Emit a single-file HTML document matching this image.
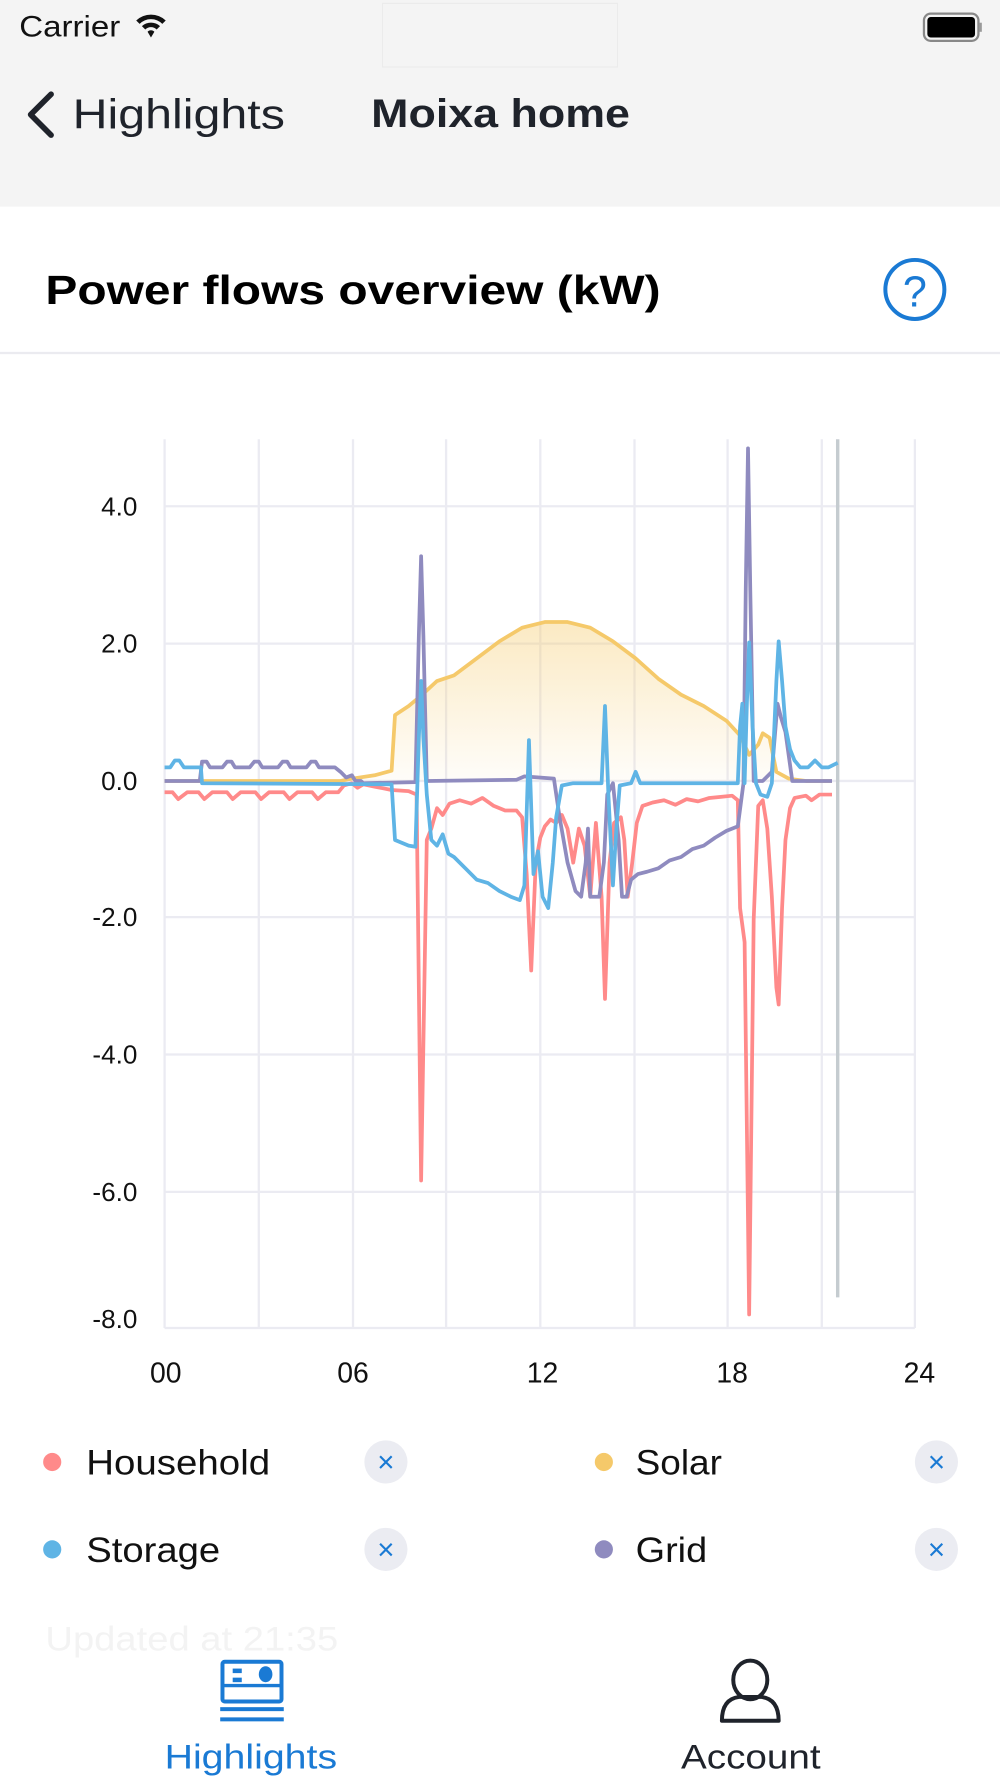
<!DOCTYPE html>
<html><head><meta charset="utf-8"><style>
html,body{margin:0;padding:0;background:#fff;width:1000px;height:1778px;overflow:hidden}
svg{display:block}
text{font-family:"Liberation Sans",Arial,sans-serif}
</style></head><body>
<svg width="1000" height="1778" viewBox="0 0 881 1566.4" xmlns="http://www.w3.org/2000/svg">
<defs>
<linearGradient id="sg" gradientUnits="userSpaceOnUse" x1="0" y1="548" x2="0" y2="688">
<stop offset="0" stop-color="#f5cc70" stop-opacity="0.42"/>
<stop offset="1" stop-color="#f5cc70" stop-opacity="0.04"/>
</linearGradient>
</defs>
<rect x="0" y="0" width="881" height="182" fill="#f4f4f4"/>
<rect x="337" y="3" width="207" height="56" fill="none" stroke="#ebebeb" stroke-width="1"/>
<text x="17" y="32" font-size="26" fill="#111" textLength="89" lengthAdjust="spacingAndGlyphs">Carrier</text>
<g transform="translate(133,24)" fill="#111">
<path d="M-13,-6 A19,19 0 0 1 13,-6 L10,-3 A14,14 0 0 0 -10,-3 Z"/>
<path d="M-8,-1 A12,12 0 0 1 8,-1 L5,2 A7,7 0 0 0 -5,2 Z"/>
<path d="M-3,4 L0,9 L3,4 A4,4 0 0 0 -3,4 Z"/>
</g>
<rect x="814" y="12" width="48" height="24" rx="6" fill="none" stroke="#888" stroke-width="2"/>
<rect x="817" y="15" width="42" height="18" rx="3" fill="#000"/>
<rect x="863" y="20" width="2" height="8" fill="#999"/>
<path d="M45,83 L27,101 L45,119" fill="none" stroke="#1f232b" stroke-width="5" stroke-linecap="round" stroke-linejoin="round"/>
<text x="64" y="113" font-size="37" fill="#1f232b" textLength="187" lengthAdjust="spacingAndGlyphs">Highlights</text>
<text x="327" y="112" font-size="35" font-weight="bold" fill="#1f232b" textLength="228" lengthAdjust="spacingAndGlyphs">Moixa home</text>
<text x="40" y="268" font-size="36" font-weight="bold" fill="#000" textLength="542" lengthAdjust="spacingAndGlyphs">Power flows overview (kW)</text>
<circle cx="806" cy="255" r="26" fill="none" stroke="#1a7ad4" stroke-width="3.5"/>
<text x="806" y="270" font-size="38" fill="#1a7ad4" text-anchor="middle">?</text>
<rect x="0" y="310" width="881" height="2" fill="#ebebf0"/>
<g stroke="#ebebf2" stroke-width="2">
<line x1="145" y1="387" x2="145" y2="1170"/><line x1="228" y1="387" x2="228" y2="1170"/>
<line x1="311" y1="387" x2="311" y2="1170"/><line x1="393" y1="387" x2="393" y2="1170"/>
<line x1="476" y1="387" x2="476" y2="1170"/><line x1="559" y1="387" x2="559" y2="1170"/>
<line x1="641" y1="387" x2="641" y2="1170"/><line x1="724" y1="387" x2="724" y2="1170"/>
<line x1="806" y1="387" x2="806" y2="1170"/>
<line x1="145" y1="446" x2="806" y2="446"/><line x1="145" y1="567" x2="806" y2="567"/>
<line x1="145" y1="688" x2="806" y2="688"/><line x1="145" y1="808" x2="806" y2="808"/>
<line x1="145" y1="929" x2="806" y2="929"/><line x1="145" y1="1050" x2="806" y2="1050"/>
<line x1="145" y1="1170" x2="806" y2="1170"/>
</g>
<g font-size="23" fill="#111" text-anchor="end">
<text x="121" y="454">4.0</text><text x="121" y="575">2.0</text><text x="121" y="696">0.0</text>
<text x="121" y="816">-2.0</text><text x="121" y="937">-4.0</text><text x="121" y="1058">-6.0</text><text x="121" y="1170">-8.0</text>
</g>
<g font-size="25" fill="#111" text-anchor="middle">
<text x="146" y="1218">00</text><text x="311" y="1218">06</text><text x="478" y="1218">12</text><text x="645" y="1218">18</text><text x="810" y="1218">24</text>
</g>
<line x1="738" y1="387" x2="738" y2="1143" stroke="#c5ccd0" stroke-width="3"/>
<path d="M145,688 L300,688 L310,686 L330,683 L345,679 L348,630 L360,622 L372,612 L385,600 L400,595 L420,580 L440,565 L460,553 L480,548 L500,548 L520,553 L540,565 L560,580 L580,598 L600,612 L620,622 L640,635 L652,648 L660,665 L668,656 L672,646 L678,650 L684,680 L695,686 L710,688 L733,688 Z" fill="url(#sg)"/>
<g fill="none" stroke-width="3.3" stroke-linejoin="round">
<polyline stroke="#f5c96a" points="145,688 300,688 310,686 330,683 345,679 348,630 360,622 372,612 385,600 400,595 420,580 440,565 460,553 480,548 500,548 520,553 540,565 560,580 580,598 600,612 620,622 640,635 652,648 660,665 668,656 672,646 678,650 684,680 695,686 710,688 733,688"/>
<polyline stroke="#ff8a8a" points="145,698 152,698 157,704 165,698 175,698 180,704 187,698 200,698 205,704 212,698 225,698 230,704 237,698 250,698 255,704 262,698 275,698 280,704 287,698 298,698 303,692 310,690 315,694 320,691 330,693 345,696 360,697 367,700 371,1040 376,740 380,730 385,712 390,718 396,708 405,705 415,708 425,703 435,710 445,714 455,714 460,720 464,770 468,855 472,760 476,738 480,728 485,722 490,725 495,718 500,730 505,760 510,730 515,745 520,790 525,725 530,790 533,880 537,760 541,725 547,720 550,740 553,790 557,760 561,725 566,710 575,707 585,705 595,709 605,704 615,706 625,703 635,702 645,701 650,705 652,800 656,830 660,1158 664,810 668,710 672,705 676,730 680,790 684,870 686,885 689,800 692,740 696,712 700,703 710,701 715,705 722,700 733,700"/>
<polyline stroke="#8f8bbf" points="145,688 176,688 178,671 182,671 185,676 196,676 200,671 204,671 207,676 220,676 224,671 228,671 231,676 245,676 249,671 253,671 256,676 270,676 274,671 278,671 281,676 295,676 300,680 305,685 310,683 313,688 318,688 320,690 366,689 369,560 371,490 373,560 376,688 455,687 462,684 488,686 493,720 500,760 507,785 512,790 516,760 518,730 520,790 528,790 532,760 535,700 540,690 545,740 548,790 552,790 556,775 562,770 570,768 580,765 590,758 600,755 610,748 620,745 630,738 640,732 650,728 655,690 657,520 659,395 661,520 664,688 672,688 680,680 685,620 688,632 692,645 698,688 733,688"/>
<polyline stroke="#5fb4e5" points="145,676 150,676 154,670 158,670 162,676 177,676 178,690 345,691 348,740 360,745 366,746 369,650 371,600 373,650 376,700 380,740 385,745 390,735 395,752 400,755 410,765 420,775 430,778 440,785 450,790 458,793 462,780 466,652 470,770 474,750 478,790 483,800 487,760 490,720 495,692 505,690 530,690 533,622 536,700 540,780 543,730 546,692 556,690 560,680 564,690 570,690 640,690 650,690 652,640 654,620 656,690 658,620 660,566 663,640 666,690 670,700 676,702 680,690 684,600 686,565 689,600 692,640 696,660 700,670 705,676 712,676 718,670 724,676 730,676 738,672"/>
</g>
<circle cx="46" cy="1288" r="8" fill="#ff8a8a"/>
<text x="76" y="1299" font-size="31" fill="#111" textLength="162" lengthAdjust="spacingAndGlyphs">Household</text>
<circle cx="340" cy="1288" r="19" fill="#ebecf2"/>
<text x="340" y="1297" font-size="26" fill="#1a7ad4" text-anchor="middle">×</text>
<circle cx="532" cy="1288" r="8" fill="#f5c96a"/>
<text x="560" y="1299" font-size="31" fill="#111" textLength="76" lengthAdjust="spacingAndGlyphs">Solar</text>
<circle cx="825" cy="1288" r="19" fill="#ebecf2"/>
<text x="825" y="1297" font-size="26" fill="#1a7ad4" text-anchor="middle">×</text>
<circle cx="46" cy="1365" r="8" fill="#5fb4e5"/>
<text x="76" y="1376" font-size="31" fill="#111" textLength="118" lengthAdjust="spacingAndGlyphs">Storage</text>
<circle cx="340" cy="1365" r="19" fill="#ebecf2"/>
<text x="340" y="1374" font-size="26" fill="#1a7ad4" text-anchor="middle">×</text>
<circle cx="532" cy="1365" r="8" fill="#8f8bbf"/>
<text x="560" y="1376" font-size="31" fill="#111" textLength="63" lengthAdjust="spacingAndGlyphs">Grid</text>
<circle cx="825" cy="1365" r="19" fill="#ebecf2"/>
<text x="825" y="1374" font-size="26" fill="#1a7ad4" text-anchor="middle">×</text>
<text x="40" y="1454" font-size="30" fill="#f3f3f3" textLength="258" lengthAdjust="spacingAndGlyphs">Updated at 21:35</text>
<rect x="196" y="1464" width="52" height="35" fill="none" stroke="#1a7ad4" stroke-width="3.5" rx="2"/>
<line x1="196" y1="1485" x2="248" y2="1485" stroke="#1a7ad4" stroke-width="3"/>
<rect x="205" y="1470" width="8" height="4" fill="#1a7ad4"/>
<rect x="205" y="1478" width="8" height="4" fill="#1a7ad4"/>
<ellipse cx="234" cy="1475" rx="6" ry="7" fill="#1a7ad4"/>
<rect x="194" y="1504" width="56" height="3.5" fill="#1a7ad4"/>
<rect x="194" y="1513" width="56" height="3.5" fill="#1a7ad4"/>
<text x="145" y="1558" font-size="30" fill="#1a7ad4" textLength="152" lengthAdjust="spacingAndGlyphs">Highlights</text>
<ellipse cx="661" cy="1480" rx="15" ry="17" fill="none" stroke="#1f232b" stroke-width="3.5"/>
<path d="M636,1516 Q636,1497 651,1495 L671,1495 Q686,1497 686,1516 Z" fill="none" stroke="#1f232b" stroke-width="3.5" stroke-linejoin="round"/>
<text x="600" y="1558" font-size="30" fill="#1f232b" textLength="123" lengthAdjust="spacingAndGlyphs">Account</text>
</svg>
</body></html>
